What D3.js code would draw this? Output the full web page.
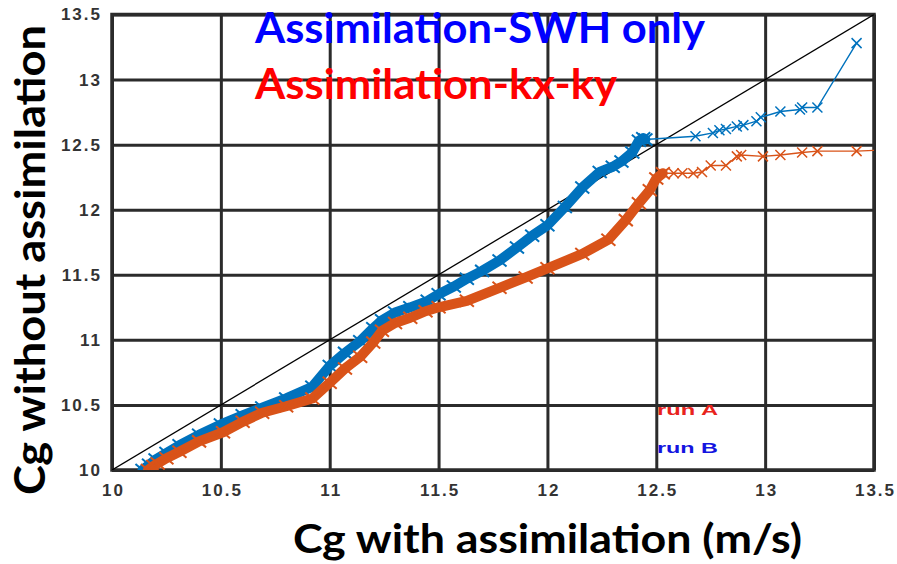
<!DOCTYPE html>
<html>
<head>
<meta charset="utf-8">
<script src="https://cdn.jsdelivr.net/npm/d3@7"></script>
<style>
  body { margin: 0; background: #fff; }
  svg { display: block; }
</style>
</head>
<body>
<svg id="chart" width="897" height="564"></svg>
<script>
// tick values for both axes
var xTicks = [10, 10.5, 11, 11.5, 12, 12.5, 13, 13.5];
var yTicks = [10, 10.5, 11, 11.5, 12, 12.5, 13, 13.5];

// run B (assimilation SWH only) - dense part then the sparse tail
var blueBulkX = [10.14, 10.17, 10.20, 10.25, 10.31, 10.40, 10.50, 10.60, 10.69, 10.80, 10.92, 11.00, 11.07, 11.14, 11.20, 11.24, 11.30, 11.37, 11.45, 11.50, 11.57, 11.63, 11.70, 11.78, 11.86, 11.93, 12.00, 12.08, 12.16, 12.24, 12.30, 12.34, 12.39, 12.42, 12.44, 12.45];
var blueBulkY = [10.00, 10.04, 10.08, 10.13, 10.19, 10.27, 10.35, 10.42, 10.48, 10.55, 10.64, 10.80, 10.90, 10.99, 11.09, 11.15, 11.21, 11.25, 11.30, 11.35, 11.41, 11.47, 11.53, 11.61, 11.71, 11.80, 11.88, 12.02, 12.17, 12.29, 12.33, 12.37, 12.44, 12.53, 12.55, 12.54];
var blueTailX = [12.68, 12.76, 12.79, 12.82, 12.87, 12.90, 12.96, 12.98, 13.07, 13.16, 13.17, 13.24, 13.42];
var blueTailY = [12.565, 12.59, 12.61, 12.62, 12.64, 12.65, 12.68, 12.71, 12.755, 12.77, 12.785, 12.785, 13.28];

// run A (assimilation kx-ky)
var orangeBulkX = [10.165, 10.19, 10.21, 10.25, 10.31, 10.40, 10.51, 10.60, 10.69, 10.80, 10.92, 11.00, 11.07, 11.14, 11.20, 11.24, 11.30, 11.37, 11.44, 11.50, 11.63, 11.78, 11.90, 12.00, 12.16, 12.28, 12.36, 12.42, 12.47, 12.50, 12.53];
var orangeBulkY = [10.00, 10.03, 10.05, 10.09, 10.14, 10.22, 10.29, 10.37, 10.44, 10.49, 10.55, 10.67, 10.78, 10.87, 10.98, 11.07, 11.13, 11.17, 11.22, 11.25, 11.30, 11.40, 11.48, 11.55, 11.66, 11.77, 11.92, 12.05, 12.15, 12.24, 12.28];
var orangeTailX = [12.58, 12.62, 12.67, 12.71, 12.75, 12.82, 12.87, 12.89, 12.99, 13.07, 13.17, 13.24, 13.42, 13.56];
var orangeTailY = [12.28, 12.28, 12.28, 12.29, 12.34, 12.34, 12.41, 12.42, 12.41, 12.42, 12.44, 12.45, 12.45, 12.46];

var blueCol = "#0072bd";
var orangeCol = "#d95319";

var svg = d3.select("#chart");
var pLeft = 112, pRight = 874, pTop = 14.5, pBottom = 470;

var x = d3.scaleLinear().domain([10, 13.5]).range([pLeft, pRight]);
var y = d3.scaleLinear().domain([10, 13.5]).range([pBottom, pTop]);

var tickFont = "bold 17px 'Liberation Sans', Arial, sans-serif";

// grid lines + tick labels
svg.append("g")
  .attr("transform", "translate(0," + pBottom + ")")
  .call(d3.axisBottom(x).tickValues(xTicks).tickSize(-(pBottom - pTop)).tickSizeOuter(0).tickPadding(14).tickFormat(String))
  .call(function(g) {
    g.select(".domain").remove();
    g.selectAll("line").attr("stroke", "#2b2b2b").attr("stroke-width", 3);
    g.selectAll("text").attr("fill", "#333").style("font", tickFont)
      .attr("letter-spacing", "2px").attr("dx", "1px");
  });

svg.append("g")
  .attr("transform", "translate(" + pLeft + ",0)")
  .call(d3.axisLeft(y).tickValues(yTicks).tickSize(-(pRight - pLeft)).tickSizeOuter(0).tickPadding(10).tickFormat(String))
  .call(function(g) {
    g.select(".domain").remove();
    g.selectAll("line").attr("stroke", "#2b2b2b").attr("stroke-width", 3);
    g.selectAll("text").attr("fill", "#333").style("font", tickFont)
      .attr("letter-spacing", "2px");
  });

// frame
svg.append("rect")
  .attr("x", pLeft).attr("y", pTop)
  .attr("width", pRight - pLeft).attr("height", pBottom - pTop)
  .attr("fill", "none").attr("stroke", "#2b2b2b").attr("stroke-width", 3.5);

svg.append("clipPath").attr("id", "plotClip")
  .append("rect").attr("x", pLeft).attr("y", pTop).attr("width", pRight - pLeft).attr("height", pBottom - pTop);

var plot = svg.append("g").attr("clip-path", "url(#plotClip)");

// 1:1 line
plot.append("line")
  .attr("x1", x(10)).attr("y1", y(10))
  .attr("x2", x(13.5)).attr("y2", y(13.5))
  .attr("stroke", "#000").attr("stroke-width", 1.3);

function zip(xs, ys) {
  return xs.map(function(v, i) { return [v, ys[i]]; });
}

var line = d3.line().x(function(d) { return x(d[0]); }).y(function(d) { return y(d[1]); });
var crossSmall = "M-5,-5L5,5M-5,5L5,-5";
var crossBig = "M-7,-6L7,6M-7,6L7,-6";

function drawSeries(bulk, tail, col) {
  var all = bulk.concat(tail);
  // the dense run of overlapping markers reads as a thick band
  plot.append("path").datum(bulk)
    .attr("d", line)
    .attr("fill", "none").attr("stroke", col)
    .attr("stroke-width", 10).attr("stroke-linejoin", "round").attr("stroke-linecap", "round");
  plot.selectAll(null).data(bulk).enter().append("path")
    .attr("transform", function(d) { return "translate(" + x(d[0]) + "," + y(d[1]) + ")"; })
    .attr("d", crossBig)
    .attr("fill", "none").attr("stroke", col).attr("stroke-width", 2);
  plot.append("path").datum(all)
    .attr("d", line)
    .attr("fill", "none").attr("stroke", col).attr("stroke-width", 1.4);
  plot.selectAll(null).data(tail).enter().append("path")
    .attr("transform", function(d) { return "translate(" + x(d[0]) + "," + y(d[1]) + ")"; })
    .attr("d", crossSmall)
    .attr("fill", "none").attr("stroke", col).attr("stroke-width", 1.5);
}

drawSeries(zip(blueBulkX, blueBulkY), zip(blueTailX, blueTailY), blueCol);
drawSeries(zip(orangeBulkX, orangeBulkY), zip(orangeTailX, orangeTailY), orangeCol);

// titles inside the plot
svg.append("text")
  .attr("x", 255).attr("y", 43)
  .attr("textLength", 450).attr("lengthAdjust", "spacingAndGlyphs")
  .attr("fill", "#0000ff")
  .style("font", "bold 42px Lato, 'Open Sans', sans-serif")
  .text("Assimilation-SWH only");

svg.append("text")
  .attr("x", 255).attr("y", 99)
  .attr("textLength", 362).attr("lengthAdjust", "spacingAndGlyphs")
  .attr("fill", "#ff0000")
  .style("font", "bold 42px Lato, 'Open Sans', sans-serif")
  .text("Assimilation-kx-ky");

// run labels
svg.append("text")
  .attr("x", 657).attr("y", 415)
  .attr("textLength", 61).attr("lengthAdjust", "spacingAndGlyphs")
  .attr("fill", "#e8231c")
  .style("font", "bold 15px 'Liberation Sans', Arial, sans-serif")
  .text("run A");

svg.append("text")
  .attr("x", 657).attr("y", 453)
  .attr("textLength", 61).attr("lengthAdjust", "spacingAndGlyphs")
  .attr("fill", "#1414e0")
  .style("font", "bold 15px 'Liberation Sans', Arial, sans-serif")
  .text("run B");

// axis titles
svg.append("text")
  .attr("x", 293).attr("y", 553)
  .attr("textLength", 509).attr("lengthAdjust", "spacingAndGlyphs")
  .attr("fill", "#000")
  .style("font", "bold 40px Lato, 'Open Sans', sans-serif")
  .text("Cg with assimilation (m/s)");

svg.append("text")
  .attr("transform", "translate(45,495) rotate(-90)")
  .attr("textLength", 470).attr("lengthAdjust", "spacingAndGlyphs")
  .attr("fill", "#000")
  .style("font", "bold 42px Lato, 'Open Sans', sans-serif")
  .text("Cg without assimilation");
</script>
</body>
</html>
